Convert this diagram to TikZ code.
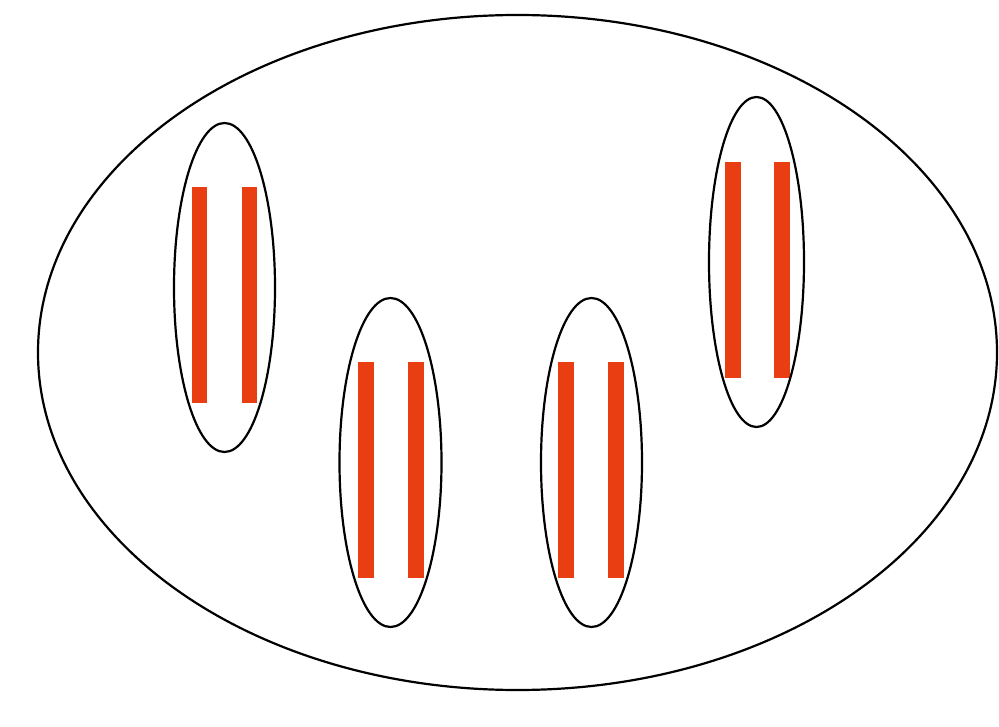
\documentclass[tikz,border=0pt]{standalone}
\definecolor{barred}{RGB}{232,62,18}
\tikzset{
  outline/.style={draw=black, line width=2.2pt},
  bar/.style={fill=barred, draw=none}
}
\begin{document}
\begin{tikzpicture}[x=1pt,y=-1pt]
\useasboundingbox (0,0) rectangle (999,727);
\fill[white] (0,0) rectangle (999,727);
% big ellipse
\draw[outline] (517.5,352.5) ellipse [x radius=479.5, y radius=337.5];
% cell 1
\fill[bar] (192,187) rectangle (207,403);
\fill[bar] (242,187) rectangle (257,403);
\draw[outline] (224.5,287.5) ellipse [x radius=50.5, y radius=164.5];
% cell 2
\fill[bar] (358,362) rectangle (374,578);
\fill[bar] (408,362) rectangle (424,578);
\draw[outline] (390.5,462.5) ellipse [x radius=51, y radius=164.5];
% cell 3
\fill[bar] (558,362) rectangle (574,578);
\fill[bar] (608,362) rectangle (624,578);
\draw[outline] (591.5,462.5) ellipse [x radius=50.5, y radius=164.5];
% cell 4
\fill[bar] (725,162) rectangle (741,378);
\fill[bar] (774,162) rectangle (790,378);
\draw[outline] (756.5,262) ellipse [x radius=47.5, y radius=165];
\end{tikzpicture}
\end{document}
